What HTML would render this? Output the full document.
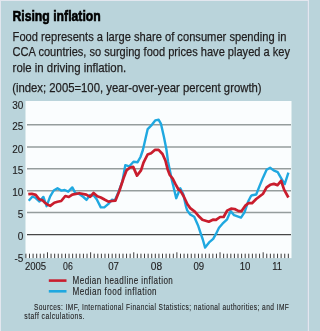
<!DOCTYPE html>
<html><head><meta charset="utf-8"><style>
html,body{margin:0;padding:0;width:309px;height:331px;overflow:hidden;background:#bad4db}
svg{display:block;will-change:transform}
text{font-family:"Liberation Sans",sans-serif;fill:#1f1d1e;stroke:#1f1d1e;stroke-width:0.25}
text.ns{stroke-width:0.12}
</style></head><body>
<svg width="309" height="331" viewBox="0 0 309 331">
<rect x="0" y="0" width="309" height="331" fill="#bad4db"/>
<rect x="25.5" y="101" width="266" height="157.1" fill="#fafdfe"/>
<line x1="27" y1="124.8" x2="291" y2="124.8" stroke="#959d9d" stroke-width="1.5"/>
<line x1="27" y1="146.9" x2="291" y2="146.9" stroke="#959d9d" stroke-width="1.5"/>
<line x1="27" y1="168.8" x2="291" y2="168.8" stroke="#959d9d" stroke-width="1.5"/>
<line x1="27" y1="190.7" x2="291" y2="190.7" stroke="#959d9d" stroke-width="1.5"/>
<line x1="27" y1="212.6" x2="291" y2="212.6" stroke="#959d9d" stroke-width="1.5"/>
<line x1="27" y1="234.6" x2="291" y2="234.6" stroke="#474747" stroke-width="1.2"/>
<g stroke="#3c3c3c" stroke-width="1"><line x1="25.90" y1="253.7" x2="25.90" y2="258.1"/><line x1="29.49" y1="253.7" x2="29.49" y2="258.1"/><line x1="33.09" y1="253.7" x2="33.09" y2="258.1"/><line x1="36.69" y1="253.7" x2="36.69" y2="258.1"/><line x1="40.28" y1="253.7" x2="40.28" y2="258.1"/><line x1="43.88" y1="253.7" x2="43.88" y2="258.1"/><line x1="47.47" y1="252.3" x2="47.47" y2="258.1"/><line x1="51.06" y1="253.7" x2="51.06" y2="258.1"/><line x1="54.66" y1="253.7" x2="54.66" y2="258.1"/><line x1="58.26" y1="253.7" x2="58.26" y2="258.1"/><line x1="61.85" y1="253.7" x2="61.85" y2="258.1"/><line x1="65.44" y1="253.7" x2="65.44" y2="258.1"/><line x1="69.04" y1="253.7" x2="69.04" y2="258.1"/><line x1="72.63" y1="253.7" x2="72.63" y2="258.1"/><line x1="76.23" y1="253.7" x2="76.23" y2="258.1"/><line x1="79.83" y1="253.7" x2="79.83" y2="258.1"/><line x1="83.42" y1="253.7" x2="83.42" y2="258.1"/><line x1="87.02" y1="253.7" x2="87.02" y2="258.1"/><line x1="90.61" y1="252.3" x2="90.61" y2="258.1"/><line x1="94.21" y1="253.7" x2="94.21" y2="258.1"/><line x1="97.80" y1="253.7" x2="97.80" y2="258.1"/><line x1="101.40" y1="253.7" x2="101.40" y2="258.1"/><line x1="104.99" y1="253.7" x2="104.99" y2="258.1"/><line x1="108.59" y1="253.7" x2="108.59" y2="258.1"/><line x1="112.18" y1="253.7" x2="112.18" y2="258.1"/><line x1="115.78" y1="253.7" x2="115.78" y2="258.1"/><line x1="119.37" y1="253.7" x2="119.37" y2="258.1"/><line x1="122.97" y1="253.7" x2="122.97" y2="258.1"/><line x1="126.56" y1="253.7" x2="126.56" y2="258.1"/><line x1="130.16" y1="253.7" x2="130.16" y2="258.1"/><line x1="133.75" y1="252.3" x2="133.75" y2="258.1"/><line x1="137.34" y1="253.7" x2="137.34" y2="258.1"/><line x1="140.94" y1="253.7" x2="140.94" y2="258.1"/><line x1="144.53" y1="253.7" x2="144.53" y2="258.1"/><line x1="148.13" y1="253.7" x2="148.13" y2="258.1"/><line x1="151.72" y1="253.7" x2="151.72" y2="258.1"/><line x1="155.32" y1="253.7" x2="155.32" y2="258.1"/><line x1="158.92" y1="253.7" x2="158.92" y2="258.1"/><line x1="162.51" y1="253.7" x2="162.51" y2="258.1"/><line x1="166.11" y1="253.7" x2="166.11" y2="258.1"/><line x1="169.70" y1="253.7" x2="169.70" y2="258.1"/><line x1="173.30" y1="253.7" x2="173.30" y2="258.1"/><line x1="176.89" y1="252.3" x2="176.89" y2="258.1"/><line x1="180.49" y1="253.7" x2="180.49" y2="258.1"/><line x1="184.08" y1="253.7" x2="184.08" y2="258.1"/><line x1="187.68" y1="253.7" x2="187.68" y2="258.1"/><line x1="191.27" y1="253.7" x2="191.27" y2="258.1"/><line x1="194.87" y1="253.7" x2="194.87" y2="258.1"/><line x1="198.46" y1="253.7" x2="198.46" y2="258.1"/><line x1="202.06" y1="253.7" x2="202.06" y2="258.1"/><line x1="205.65" y1="253.7" x2="205.65" y2="258.1"/><line x1="209.25" y1="253.7" x2="209.25" y2="258.1"/><line x1="212.84" y1="253.7" x2="212.84" y2="258.1"/><line x1="216.44" y1="253.7" x2="216.44" y2="258.1"/><line x1="220.03" y1="252.3" x2="220.03" y2="258.1"/><line x1="223.63" y1="253.7" x2="223.63" y2="258.1"/><line x1="227.22" y1="253.7" x2="227.22" y2="258.1"/><line x1="230.82" y1="253.7" x2="230.82" y2="258.1"/><line x1="234.41" y1="253.7" x2="234.41" y2="258.1"/><line x1="238.01" y1="253.7" x2="238.01" y2="258.1"/><line x1="241.60" y1="253.7" x2="241.60" y2="258.1"/><line x1="245.20" y1="253.7" x2="245.20" y2="258.1"/><line x1="248.79" y1="253.7" x2="248.79" y2="258.1"/><line x1="252.39" y1="253.7" x2="252.39" y2="258.1"/><line x1="255.98" y1="253.7" x2="255.98" y2="258.1"/><line x1="259.57" y1="253.7" x2="259.57" y2="258.1"/><line x1="263.17" y1="252.3" x2="263.17" y2="258.1"/><line x1="266.76" y1="253.7" x2="266.76" y2="258.1"/><line x1="270.36" y1="253.7" x2="270.36" y2="258.1"/><line x1="273.95" y1="253.7" x2="273.95" y2="258.1"/><line x1="277.55" y1="253.7" x2="277.55" y2="258.1"/><line x1="281.14" y1="253.7" x2="281.14" y2="258.1"/><line x1="284.74" y1="253.7" x2="284.74" y2="258.1"/><line x1="288.33" y1="253.7" x2="288.33" y2="258.1"/></g>
<polyline points="28.7,200.8 32.5,196.5 35.7,198.0 39.5,201.5 43.4,196.9 46.6,206.2 50.2,196.3 53.7,190.5 57.5,188.2 61.2,190.6 64.7,190.0 68.2,191.7 72.3,187.4 75.2,192.9 79.3,194.1 83.4,197.0 86.5,199.9 90.0,195.0 93.8,195.5 96.7,199.2 100.8,207.4 104.3,207.4 108.4,203.9 111.9,199.8 114.8,200.4 118.5,192.0 122.4,181.5 125.3,165.1 129.4,166.3 133.5,161.7 137.6,162.2 140.5,157.0 142.9,150.0 145.3,139.6 147.7,129.1 151.1,125.7 155.2,120.4 158.7,119.8 161.0,123.9 164.0,137.3 166.5,150.0 168.0,161.5 169.8,170.0 172.0,180.8 173.3,186.0 176.2,198.2 180.3,188.3 183.2,194.1 186.1,207.0 187.2,210.4 190.2,214.5 194.2,216.8 198.3,226.1 200.6,233.1 202.8,239.5 205.1,247.6 209.1,242.4 213.2,238.9 216.1,233.7 219.0,227.8 222.5,223.7 227.1,219.3 230.6,211.1 234.1,215.2 241.0,217.6 244.5,212.3 248.0,201.8 251.0,196.0 252.1,195.2 256.2,194.5 259.7,185.6 263.1,177.4 266.6,169.8 270.1,167.7 273.6,170.4 277.7,172.2 281.1,178.1 284.7,184.1 288.4,172.7" fill="none" stroke="#1fa8e0" stroke-width="2.4" stroke-linejoin="round" stroke-linecap="butt"/>
<polyline points="28.3,194.2 31.8,193.8 35.7,194.9 39.1,199.2 42.6,200.4 45.0,202.7 47.3,204.5 50.2,205.9 54.3,202.7 57.5,201.8 61.2,201.0 65.3,196.0 68.8,197.0 72.3,194.6 79.3,193.2 86.3,194.6 90.1,196.9 93.6,193.0 97.3,196.3 100.8,197.5 104.9,199.8 108.4,201.6 111.9,201.0 115.4,200.7 119.5,190.5 123.6,178.0 126.5,170.4 130.0,167.5 133.2,166.9 137.0,175.6 141.0,170.4 143.5,162.6 147.6,154.5 151.1,153.3 155.1,149.8 158.6,149.8 162.5,154.0 165.4,160.5 167.6,169.2 169.8,175.0 172.7,178.6 175.6,184.4 178.5,189.5 180.3,190.6 183.8,196.5 187.3,204.0 190.2,208.1 194.8,211.6 198.3,215.7 202.4,219.7 208.8,221.7 212.9,219.7 216.0,219.9 220.1,217.0 223.6,217.0 227.1,210.6 231.1,208.6 234.6,209.0 238.7,211.1 241.6,211.1 245.1,205.9 248.6,203.0 252.0,203.2 256.2,199.0 263.1,193.7 266.6,187.3 270.2,184.8 273.9,183.9 277.5,185.1 281.1,180.8 284.1,189.6 288.4,197.5" fill="none" stroke="#c91d2d" stroke-width="2.7" stroke-linejoin="round" stroke-linecap="butt"/>
<text x="12.4" y="21.0" font-size="14.5" font-weight="bold" textLength="88.4" lengthAdjust="spacingAndGlyphs" style="stroke-width:0.6;fill:#000;stroke:#000">Rising inflation</text>
<text x="12.6" y="40.5" font-size="13.6" font-weight="normal" textLength="273.8" lengthAdjust="spacingAndGlyphs">Food represents a large share of consumer spending in</text>
<text x="12.6" y="56.4" font-size="13.6" font-weight="normal" textLength="277.4" lengthAdjust="spacingAndGlyphs">CCA countries, so surging food prices have played a key</text>
<text x="12.6" y="72.4" font-size="13.6" font-weight="normal" textLength="113.6" lengthAdjust="spacingAndGlyphs">role in driving inflation.</text>
<text x="12.2" y="91.9" font-size="13.4" font-weight="normal" textLength="249.4" lengthAdjust="spacingAndGlyphs">(index; 2005=100, year-over-year percent growth)</text>
<text x="72.5" y="283.6" font-size="10.6" font-weight="normal" textLength="100.8" lengthAdjust="spacingAndGlyphs" style="stroke-width:0.1;letter-spacing:0.6px">Median headline inflation</text>
<text x="72.5" y="294.8" font-size="10.6" font-weight="normal" textLength="84.6" lengthAdjust="spacingAndGlyphs" style="stroke-width:0.1;letter-spacing:0.6px">Median food inflation</text>
<text x="33.9" y="309.6" font-size="9.5" font-weight="normal" textLength="255.4" lengthAdjust="spacingAndGlyphs" style="stroke-width:0.1;letter-spacing:0.6px">Sources: IMF, International Financial Statistics; national authorities; and IMF</text>
<text x="24.3" y="319.2" font-size="9.5" font-weight="normal" textLength="60.6" lengthAdjust="spacingAndGlyphs" style="stroke-width:0.1;letter-spacing:0.6px">staff calculations.</text>
<text x="23.4" y="108.6" font-size="10" text-anchor="end" class="ns">30</text>
<text x="23.4" y="130.4" font-size="10" text-anchor="end" class="ns">25</text>
<text x="23.4" y="152.5" font-size="10" text-anchor="end" class="ns">20</text>
<text x="23.4" y="174.4" font-size="10" text-anchor="end" class="ns">15</text>
<text x="23.4" y="196.3" font-size="10" text-anchor="end" class="ns">10</text>
<text x="23.4" y="218.2" font-size="10" text-anchor="end" class="ns">5</text>
<text x="23.4" y="240.2" font-size="10" text-anchor="end" class="ns">0</text>
<text x="23.4" y="262.2" font-size="10" text-anchor="end" class="ns">-5</text>
<text x="24.9" y="269.7" font-size="10" class="ns" textLength="21.3" lengthAdjust="spacingAndGlyphs">2005</text>
<text x="63.1" y="269.7" font-size="10" class="ns" textLength="9.7" lengthAdjust="spacingAndGlyphs">06</text>
<text x="108.2" y="269.7" font-size="10" class="ns" textLength="10.8" lengthAdjust="spacingAndGlyphs">07</text>
<text x="150.8" y="269.7" font-size="10" class="ns" textLength="11.3" lengthAdjust="spacingAndGlyphs">08</text>
<text x="193.5" y="269.7" font-size="10" class="ns" textLength="10.7" lengthAdjust="spacingAndGlyphs">09</text>
<text x="239.7" y="269.7" font-size="10" class="ns" textLength="10.7" lengthAdjust="spacingAndGlyphs">10</text>
<text x="272.3" y="269.7" font-size="10" class="ns" textLength="9.7" lengthAdjust="spacingAndGlyphs">11</text>
<rect x="0" y="0" width="309" height="1" fill="#e3e7ef"/><rect x="0" y="0" width="1" height="331" fill="#e3e7ef"/><rect x="308" y="0" width="1" height="331" fill="#e3e7ef"/><rect x="307" y="1" width="1" height="330" fill="#c6d3e0"/>
<line x1="48.8" y1="280.6" x2="66.5" y2="280.6" stroke="#c91d2d" stroke-width="2.6"/>
<line x1="48.8" y1="291.3" x2="66.5" y2="291.3" stroke="#1fa8e0" stroke-width="2.6"/>
</svg>
</body></html>
